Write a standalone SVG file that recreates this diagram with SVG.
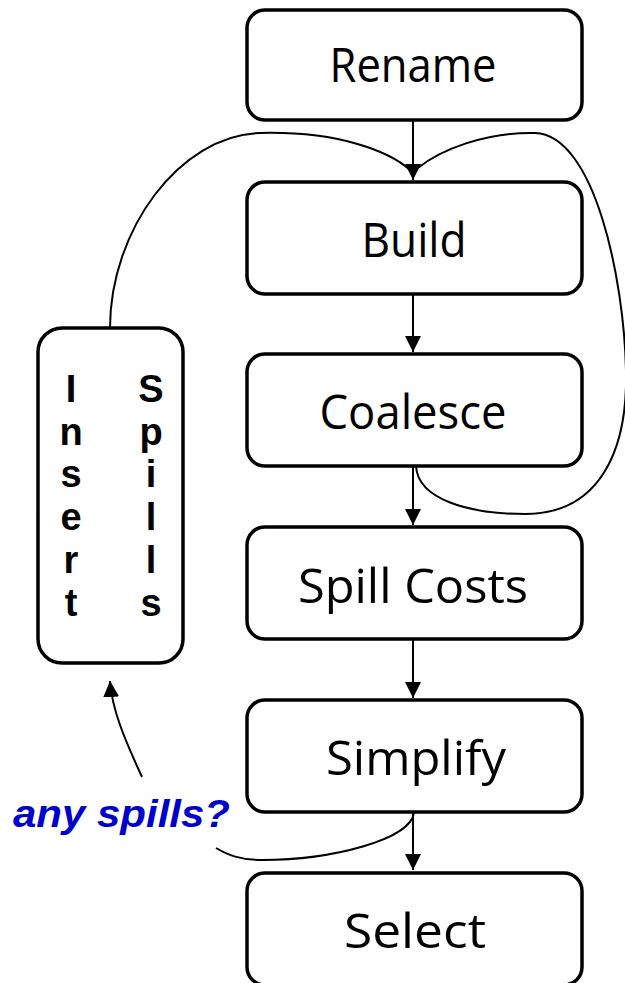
<svg xmlns="http://www.w3.org/2000/svg" width="625" height="983" viewBox="0 0 625 983">
<style>
.box{fill:#fff;stroke:#000;stroke-width:3.5}
.lbl{font-family:"Open Sans","DejaVu Sans",sans-serif;font-size:48px;fill:#000;text-anchor:middle}
.ins{font-family:"Liberation Sans",Arial,sans-serif;font-weight:bold;font-size:38px;fill:#000;text-anchor:middle}
.con{fill:none;stroke:#000;stroke-width:2}
.q{font-family:"Liberation Sans",Arial,sans-serif;font-weight:bold;font-style:italic;font-size:39px;fill:#0000cc}
</style>
<defs>
<marker id="ah" markerUnits="userSpaceOnUse" markerWidth="16" markerHeight="16" viewBox="0 0 10 10" refX="10" refY="5" orient="auto">
<path d="M0,0 L10,5 L0,10 z" fill="#000"/>
</marker>
</defs>
<rect width="625" height="983" fill="#fff"/>
<g id="connectors">
<path class="con" d="M413,120 L413,180" marker-end="url(#ah)"/>
<path class="con" d="M413,294 L413,352" marker-end="url(#ah)"/>
<path class="con" d="M413,466 L413,525" marker-end="url(#ah)"/>
<path class="con" d="M413,639 L413,698" marker-end="url(#ah)"/>
<path class="con" d="M413,812 L413,870" marker-end="url(#ah)"/>
<path class="con" d="M110,328 C110,230 180,135 260,133 C340,131 390,152 410,170"/>
<path class="con" d="M416,466 C418,500 470,514 525,514 C600,514 628,450 626,370 C624,280 595,135 535,133 C485,132 440,150 418,168"/>
<path class="con" d="M414,812 C412,840 330,860 262,860 C240,860 228,855 216,848"/>
<path class="con" d="M142,777 C125,740 112,710 110,681" marker-end="url(#ah)"/>
</g>
<g id="rename"><rect class="box" x="247" y="10" width="335" height="110" rx="18"/><text class="lbl" x="413" y="82" textLength="167" lengthAdjust="spacingAndGlyphs">Rename</text></g>
<g id="build"><rect class="box" x="247" y="182" width="335" height="112" rx="18"/><text class="lbl" x="414" y="257" textLength="105" lengthAdjust="spacingAndGlyphs">Build</text></g>
<g id="coalesce"><rect class="box" x="247" y="354" width="335" height="112" rx="18"/><text class="lbl" x="413" y="429" textLength="187" lengthAdjust="spacingAndGlyphs">Coalesce</text></g>
<g id="spillcosts"><rect class="box" x="247" y="527" width="335" height="112" rx="18"/><text class="lbl" x="413" y="603" textLength="230" lengthAdjust="spacingAndGlyphs">Spill Costs</text></g>
<g id="simplify"><rect class="box" x="247" y="700" width="335" height="112" rx="18"/><text class="lbl" x="416" y="775" textLength="180" lengthAdjust="spacingAndGlyphs">Simplify</text></g>
<g id="select"><rect class="box" x="247" y="873" width="335" height="112" rx="18"/><text class="lbl" x="415" y="948" textLength="142" lengthAdjust="spacingAndGlyphs">Select</text></g>
<g id="insertspills"><rect class="box" x="38" y="328" width="145" height="335" rx="24"/>
<text class="ins"><tspan x="71" y="402">I</tspan><tspan x="71" y="445">n</tspan><tspan x="71" y="487">s</tspan><tspan x="71" y="530">e</tspan><tspan x="71" y="573">r</tspan><tspan x="71" y="616">t</tspan></text>
<text class="ins"><tspan x="151" y="402">S</tspan><tspan x="151" y="445">p</tspan><tspan x="151" y="487">i</tspan><tspan x="151" y="530">l</tspan><tspan x="151" y="573">l</tspan><tspan x="151" y="616">s</tspan></text>
</g>
<g id="label"><text class="q" x="13" y="827" textLength="217" lengthAdjust="spacingAndGlyphs">any spills?</text></g>
</svg>
